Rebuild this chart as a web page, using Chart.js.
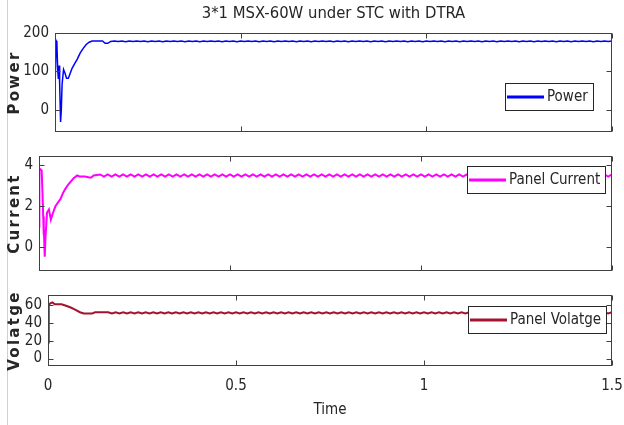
<!DOCTYPE html>
<html>
<head>
<meta charset="utf-8">
<title>3*1 MSX-60W under STC with DTRA</title>
<script src="https://cdn.jsdelivr.net/npm/chart.js@4.4.1/dist/chart.umd.min.js"></script>
<style>
  html, body { margin: 0; padding: 0; background: #fff; }
  #page { position: relative; width: 624px; height: 425px; overflow: hidden; }
  #page canvas { position: absolute; left: 0; top: 0; }
  #edge { position: absolute; left: 7px; top: 0; width: 1px; height: 425px; background: #d0d0d0; }
</style>
</head>
<body>
<div id="page">
  <div id="edge"></div>
  <canvas id="powerChart" width="624" height="425"></canvas>
  <canvas id="currentChart" width="624" height="425"></canvas>
  <canvas id="voltageChart" width="624" height="425"></canvas>
</div>
<script>
const FONT = "'DejaVu Sans Condensed', 'Liberation Sans', sans-serif";
const INK = '#262626';
const BOX = '#404040';

// time axis ticks (shared by all three plots)
const timeTicks = [0, 0.5, 1, 1.5];

// start-up transient
const powerTime = [0, 0.003, 0.005, 0.007, 0.009, 0.011, 0.0125, 0.015, 0.017, 0.019, 0.023, 0.027, 0.031, 0.036, 0.041, 0.046, 0.053, 0.060, 0.068, 0.076, 0.084, 0.092, 0.100, 0.115, 0.128, 0.135, 0.142, 0.150];
const powerValues = [50, 180, 176, 110, 80, 115, 70, -32, 0, 65, 105, 95, 82, 82, 95, 108, 120, 132, 148, 160, 170, 176, 179, 179, 179, 173, 173, 178];

const currentTime = [0, 0.001, 0.007, 0.009, 0.011, 0.012, 0.013, 0.015, 0.017, 0.021, 0.026, 0.031, 0.036, 0.043, 0.050, 0.056, 0.063, 0.069, 0.076, 0.083, 0.090, 0.100, 0.106, 0.120, 0.132, 0.137, 0.143];
const currentValues = [1.0, 3.85, 3.75, 2.7, 1.5, 0.6, 1.0, -0.45, 0.5, 1.7, 1.85, 1.35, 1.65, 2.0, 2.2, 2.35, 2.65, 2.85, 3.05, 3.2, 3.35, 3.5, 3.45, 3.45, 3.4, 3.4, 3.5];

const voltageTime = [0, 0.002, 0.006, 0.012, 0.018, 0.036, 0.050, 0.062, 0.072, 0.085, 0.095, 0.117, 0.125];
const voltageValues = [18, 60, 62, 63, 61, 61, 59, 57, 55, 52, 50.5, 50.5, 52];

// steady state with the small MPPT ripple
const rippleTime = [
  0.16, 0.17, 0.18, 0.19, 0.20, 0.21, 0.22, 0.23, 0.24, 0.25,
  0.26, 0.27, 0.28, 0.29, 0.30, 0.31, 0.32, 0.33, 0.34, 0.35,
  0.36, 0.37, 0.38, 0.39, 0.40, 0.41, 0.42, 0.43, 0.44, 0.45,
  0.46, 0.47, 0.48, 0.49, 0.50, 0.51, 0.52, 0.53, 0.54, 0.55,
  0.56, 0.57, 0.58, 0.59, 0.60, 0.61, 0.62, 0.63, 0.64, 0.65,
  0.66, 0.67, 0.68, 0.69, 0.70, 0.71, 0.72, 0.73, 0.74, 0.75,
  0.76, 0.77, 0.78, 0.79, 0.80, 0.81, 0.82, 0.83, 0.84, 0.85,
  0.86, 0.87, 0.88, 0.89, 0.90, 0.91, 0.92, 0.93, 0.94, 0.95,
  0.96, 0.97, 0.98, 0.99, 1.00, 1.01, 1.02, 1.03, 1.04, 1.05,
  1.06, 1.07, 1.08, 1.09, 1.10, 1.11, 1.12, 1.13, 1.14, 1.15,
  1.16, 1.17, 1.18, 1.19, 1.20, 1.21, 1.22, 1.23, 1.24, 1.25,
  1.26, 1.27, 1.28, 1.29, 1.30, 1.31, 1.32, 1.33, 1.34, 1.35,
  1.36, 1.37, 1.38, 1.39, 1.40, 1.41, 1.42, 1.43, 1.44, 1.45,
  1.46, 1.47, 1.48, 1.49, 1.50];
const powerRipple = [
  179, 178, 179, 177, 179, 178, 179, 178, 179, 177,
  179, 178, 179, 177, 179, 178, 179, 178, 179, 177,
  179, 178, 179, 177, 179, 178, 179, 178, 179, 177,
  179, 178, 179, 177, 179, 178, 179, 178, 179, 177,
  179, 178, 179, 177, 179, 178, 179, 178, 179, 177,
  179, 178, 179, 177, 179, 178, 179, 178, 179, 177,
  179, 178, 179, 177, 179, 178, 179, 178, 179, 177,
  179, 178, 179, 177, 179, 178, 179, 178, 179, 177,
  179, 178, 179, 177, 179, 178, 179, 178, 179, 177,
  179, 178, 179, 177, 179, 178, 179, 178, 179, 177,
  179, 178, 179, 177, 179, 178, 179, 178, 179, 177,
  179, 178, 179, 177, 179, 178, 179, 178, 179, 177,
  179, 178, 179, 177, 179, 178, 179, 178, 179, 177,
  179, 178, 179, 178, 179];
const currentRipple = [
  3.55, 3.45, 3.55, 3.45, 3.55, 3.45, 3.55, 3.45, 3.55, 3.45,
  3.55, 3.45, 3.55, 3.45, 3.55, 3.45, 3.55, 3.45, 3.55, 3.45,
  3.55, 3.45, 3.55, 3.45, 3.55, 3.45, 3.55, 3.45, 3.55, 3.45,
  3.55, 3.45, 3.55, 3.45, 3.55, 3.45, 3.55, 3.45, 3.55, 3.45,
  3.55, 3.45, 3.55, 3.45, 3.55, 3.45, 3.55, 3.45, 3.55, 3.45,
  3.55, 3.45, 3.55, 3.45, 3.55, 3.45, 3.55, 3.45, 3.55, 3.45,
  3.55, 3.45, 3.55, 3.45, 3.55, 3.45, 3.55, 3.45, 3.55, 3.45,
  3.55, 3.45, 3.55, 3.45, 3.55, 3.45, 3.55, 3.45, 3.55, 3.45,
  3.55, 3.45, 3.55, 3.45, 3.55, 3.45, 3.55, 3.45, 3.55, 3.45,
  3.55, 3.45, 3.55, 3.45, 3.55, 3.45, 3.55, 3.45, 3.55, 3.45,
  3.55, 3.45, 3.55, 3.45, 3.55, 3.45, 3.55, 3.45, 3.55, 3.45,
  3.55, 3.45, 3.55, 3.45, 3.55, 3.45, 3.55, 3.45, 3.55, 3.45,
  3.55, 3.45, 3.55, 3.45, 3.55, 3.45, 3.55, 3.45, 3.55, 3.45,
  3.55, 3.45, 3.55, 3.45, 3.55];
const voltageRipple = [
  51.9, 50.6, 51.9, 50.6, 51.9, 50.6, 51.9, 50.6, 51.9, 50.6,
  51.9, 50.6, 51.9, 50.6, 51.9, 50.6, 51.9, 50.6, 51.9, 50.6,
  51.9, 50.6, 51.9, 50.6, 51.9, 50.6, 51.9, 50.6, 51.9, 50.6,
  51.9, 50.6, 51.9, 50.6, 51.9, 50.6, 51.9, 50.6, 51.9, 50.6,
  51.9, 50.6, 51.9, 50.6, 51.9, 50.6, 51.9, 50.6, 51.9, 50.6,
  51.9, 50.6, 51.9, 50.6, 51.9, 50.6, 51.9, 50.6, 51.9, 50.6,
  51.9, 50.6, 51.9, 50.6, 51.9, 50.6, 51.9, 50.6, 51.9, 50.6,
  51.9, 50.6, 51.9, 50.6, 51.9, 50.6, 51.9, 50.6, 51.9, 50.6,
  51.9, 50.6, 51.9, 50.6, 51.9, 50.6, 51.9, 50.6, 51.9, 50.6,
  51.9, 50.6, 51.9, 50.6, 51.9, 50.6, 51.9, 50.6, 51.9, 50.6,
  51.9, 50.6, 51.9, 50.6, 51.9, 50.6, 51.9, 50.6, 51.9, 50.6,
  51.9, 50.6, 51.9, 50.6, 51.9, 50.6, 51.9, 50.6, 51.9, 50.6,
  51.9, 50.6, 51.9, 50.6, 51.9, 50.6, 51.9, 50.6, 51.9, 50.6,
  51.9, 50.6, 51.9, 50.6, 51.9];

const powerTicks = [0, 100, 200];
const currentTicks = [0, 2, 4];
const voltageTicks = [0, 20, 40, 60];

function toPoints(times, values) {
  return times.map((t, i) => ({ x: t, y: values[i] }));
}

// MATLAB-like axes box with inward ticks, boxed legend and spaced ylabel
const matlabAxes = {
  id: 'matlabAxes',
  afterDatasetsDraw(chart, args, opts) {
    const { ctx, chartArea: a, scales: { x, y } } = chart;
    const L = Math.round(a.left) + 0.5, R = Math.round(a.right) - 0.5;
    const T = Math.round(a.top) + 0.5, B = Math.round(a.bottom) - 0.5;
    ctx.save();
    ctx.strokeStyle = BOX;
    ctx.lineWidth = 1;
    ctx.beginPath();
    x.ticks.forEach(t => {
      const px = Math.round(x.getPixelForValue(t.value)) + 0.5;
      ctx.moveTo(px, B); ctx.lineTo(px, B - 5);
      ctx.moveTo(px, T); ctx.lineTo(px, T + 5);
    });
    y.ticks.forEach(t => {
      const py = Math.round(y.getPixelForValue(t.value)) + 0.5;
      ctx.moveTo(L, py); ctx.lineTo(L + 5, py);
      ctx.moveTo(R, py); ctx.lineTo(R - 5, py);
    });
    ctx.stroke();
    ctx.strokeRect(L, T, R - L, B - T);

    // legend
    ctx.font = `15px ${FONT}`;
    const tw = ctx.measureText(opts.label).width;
    const w = Math.round(2 + 37 + 3 + tw + 5), h = 27;
    const bx = Math.round(a.right - opts.legendRight - w);
    const by = Math.round(a.top + opts.legendTop);
    ctx.fillStyle = '#fff';
    ctx.fillRect(bx, by, w, h);
    ctx.strokeStyle = INK;
    ctx.strokeRect(bx + 0.5, by + 0.5, w, h);
    ctx.strokeStyle = opts.color;
    ctx.lineWidth = 3;
    ctx.beginPath();
    ctx.moveTo(bx + 2, by + h / 2 + 0.5);
    ctx.lineTo(bx + 39, by + h / 2 + 0.5);
    ctx.stroke();
    ctx.fillStyle = INK;
    ctx.textBaseline = 'middle';
    ctx.textAlign = 'left';
    ctx.fillText(opts.label, bx + 42, by + h / 2 + 1);

    // y label
    ctx.translate(15, (a.top + a.bottom) / 2);
    ctx.rotate(-Math.PI / 2);
    ctx.font = "bold 15px 'DejaVu Sans', sans-serif";
    if ('letterSpacing' in ctx) ctx.letterSpacing = '2.3px';
    ctx.textAlign = 'center';
    ctx.fillText(opts.yTitle, 0, 0);
    ctx.restore();
  }
};

function yScale(min, max, ticks, width) {
  return {
    type: 'linear', min, max,
    grid: { display: false, drawTicks: false },
    border: { display: false },
    ticks: { font: { family: FONT, size: 15 }, color: INK, padding: 6 },
    afterBuildTicks: s => { s.ticks = ticks.map(v => ({ value: v })); },
    afterFit: s => { s.width = width; }
  };
}

function xScale(showLabels) {
  return {
    type: 'linear', min: 0, max: 1.5,
    grid: { display: false, drawTicks: false },
    border: { display: false },
    ticks: {
      display: showLabels,
      font: { family: FONT, size: 15 }, color: INK, padding: 11,
      callback: v => String(v)
    },
    title: {
      display: showLabels, text: 'Time', color: INK,
      font: { family: FONT, size: 15 }, padding: { top: 0, bottom: 0 }
    },
    afterBuildTicks: s => { s.ticks = timeTicks.map(v => ({ value: v })); },
    afterFit: s => {
      s.height = showLabels ? 53 : 0;
      s.paddingLeft = 0;
      s.paddingRight = 0;
    }
  };
}

function makeChart(id, cfg) {
  return new Chart(document.getElementById(id), {
    type: 'line',
    data: {
      datasets: [{
        data: cfg.points,
        borderColor: cfg.color,
        borderWidth: cfg.lineWidth,
        pointRadius: 0,
        tension: 0,
        fill: false
      }]
    },
    options: {
      responsive: false,
      animation: false,
      events: [],
      layout: { padding: cfg.padding },
      scales: { x: xScale(cfg.showTime), y: yScale(cfg.min, cfg.max, cfg.ticks, cfg.axisWidth) },
      plugins: {
        legend: { display: false },
        tooltip: { enabled: false },
        title: cfg.title ? {
          display: true, text: cfg.title, color: INK, fullSize: false,
          font: { family: FONT, size: 16.5, weight: 'normal' },
          padding: { top: 4, bottom: 9.2 }
        } : { display: false },
        matlabAxes: { label: cfg.label, color: cfg.color, yTitle: cfg.yTitle, legendRight: cfg.legendRight, legendTop: cfg.legendTop }
      }
    },
    plugins: [matlabAxes]
  });
}

makeChart('powerChart', {
  points: toPoints(powerTime.concat(rippleTime), powerValues.concat(powerRipple)),
  color: '#0000ff', lineWidth: 1.5,
  min: -58, max: 200, ticks: powerTicks, axisWidth: 55,
  padding: { left: 0, right: 12, top: 0, bottom: 293 },
  title: '3*1 MSX-60W under STC with DTRA',
  label: 'Power', yTitle: 'Power', legendRight: 19, legendTop: 50,
  showTime: false
});

makeChart('currentChart', {
  points: toPoints(currentTime.concat(rippleTime), currentValues.concat(currentRipple)),
  color: '#ff00ff', lineWidth: 2,
  min: -1.15, max: 4.45, ticks: currentTicks, axisWidth: 39,
  padding: { left: 0, right: 12, top: 156, bottom: 154 },
  label: 'Panel Current', yTitle: 'Current', legendRight: 7, legendTop: 10,
  showTime: false
});

makeChart('voltageChart', {
  points: toPoints(voltageTime.concat(rippleTime), voltageValues.concat(voltageRipple)),
  color: '#a2142f', lineWidth: 2,
  min: -8.3, max: 71.3, ticks: voltageTicks, axisWidth: 48,
  padding: { left: 0, right: 12, top: 295, bottom: 6 },
  label: 'Panel Volatge', yTitle: 'Volatge', legendRight: 6, legendTop: 11,
  showTime: true
});
</script>
</body>
</html>
